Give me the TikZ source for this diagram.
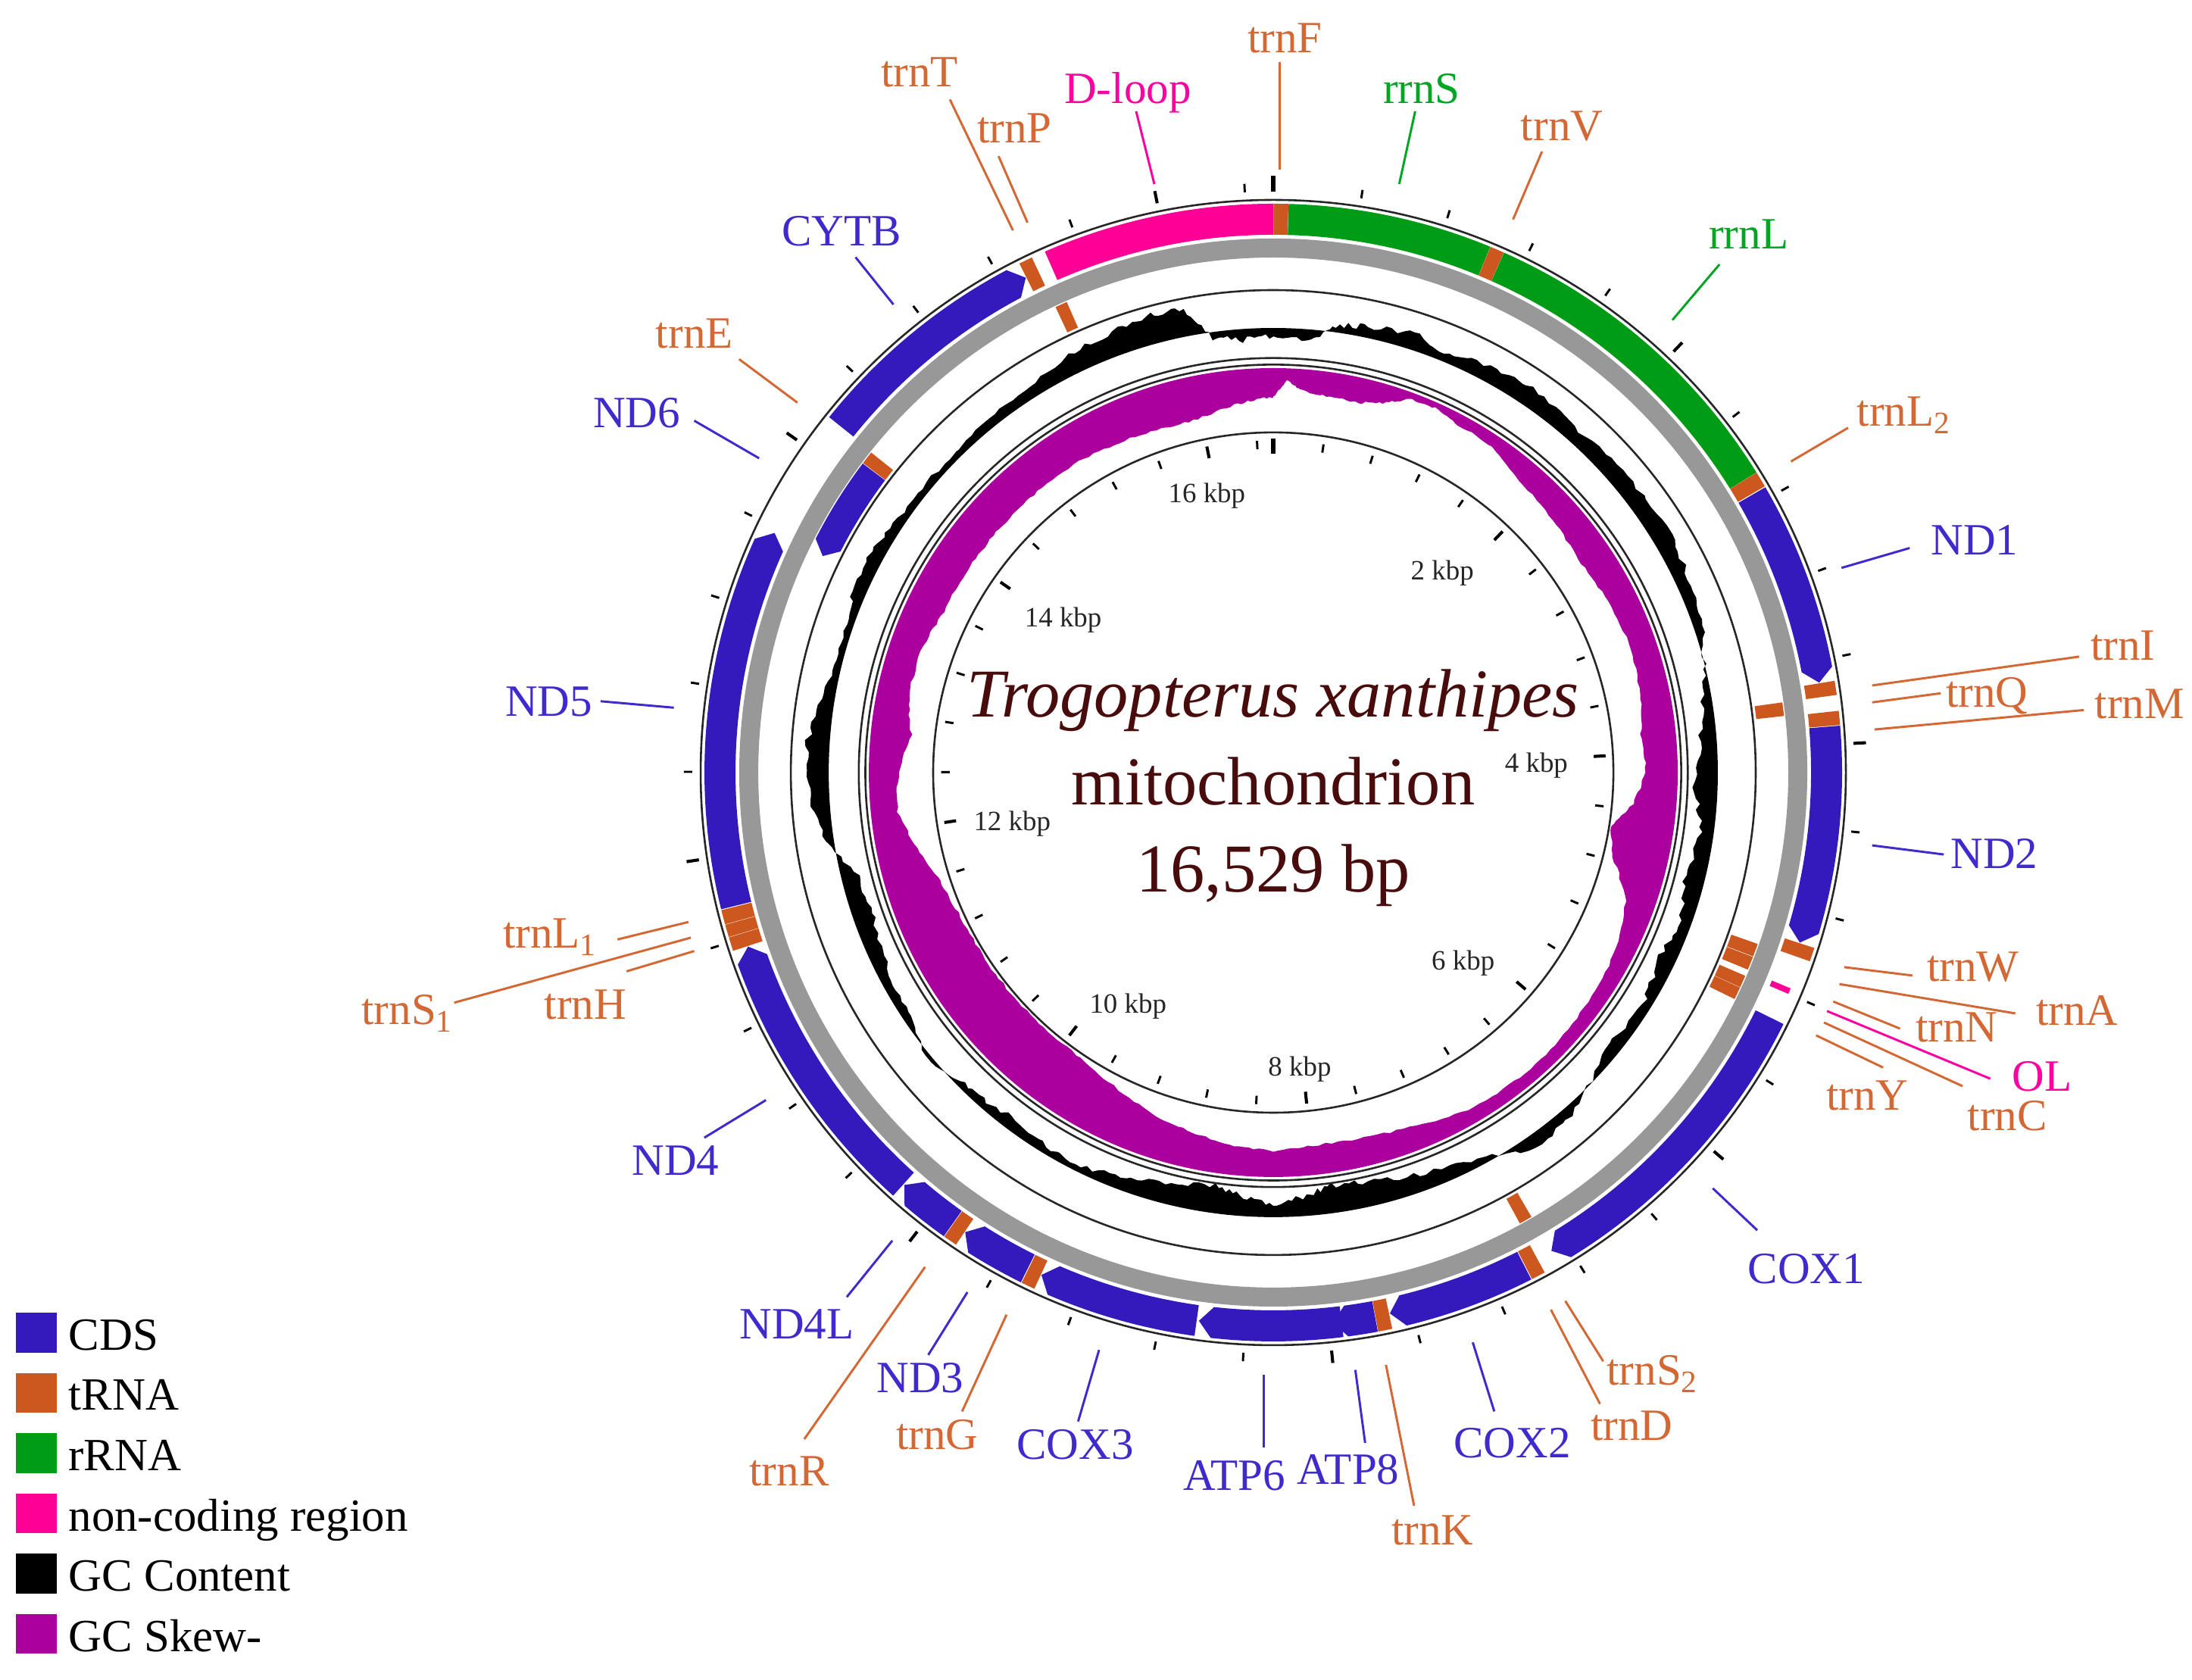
\documentclass[tikz,border=0pt]{standalone}
\usepackage{fontspec}
\setmainfont{Liberation Serif}
\definecolor{cdsC}{RGB}{52,26,188}
\definecolor{trnaC}{RGB}{204,88,32}
\definecolor{rrnaC}{RGB}{0,156,22}
\definecolor{ncC}{RGB}{255,0,150}
\definecolor{skewC}{RGB}{172,0,158}
\definecolor{ringC}{RGB}{152,152,152}
\definecolor{titleC}{RGB}{72,12,12}
\definecolor{cdsT}{RGB}{62,42,205}
\definecolor{trnaT}{RGB}{212,104,52}
\definecolor{rrnaT}{RGB}{0,165,35}
\definecolor{ncT}{RGB}{255,0,160}
% degrees per kbp (genome 16.529 kbp)
\def\dg{21.77990199}
\def\tipang{1.4}
\def\oI{384.7}\def\oO{406.9}\def\iI{347.6}\def\iO{367.6}
\newcommand\gfArc[5]{%
  \pgfmathsetmacro\gfSa{#1*\dg-90}\pgfmathsetmacro\gfEa{#2*\dg-90}%
  \fill[#5] plot[domain=\gfSa:\gfEa,samples=40,variable=\gfv] (\gfv:#4) -- plot[domain=\gfEa:\gfSa,samples=40,variable=\gfv] (\gfv:#3) -- cycle;}
\newcommand\gfFwd[4]{%
  \pgfmathsetmacro\gfSa{#1*\dg-90}\pgfmathsetmacro\gfEa{#2*\dg-90}%
  \pgfmathsetmacro\gfTa{\gfEa-\tipang}\pgfmathsetmacro\gfRm{(#3+#4)/2}%
  \fill[cdsC] plot[domain=\gfSa:\gfTa,samples=40,variable=\gfv] (\gfv:#4) -- (\gfEa:\gfRm) -- plot[domain=\gfTa:\gfSa,samples=40,variable=\gfv] (\gfv:#3) -- cycle;}
\newcommand\gfRev[4]{%
  \pgfmathsetmacro\gfSa{#1*\dg-90}\pgfmathsetmacro\gfEa{#2*\dg-90}%
  \pgfmathsetmacro\gfTa{\gfSa+\tipang}\pgfmathsetmacro\gfRm{(#3+#4)/2}%
  \fill[cdsC] (\gfSa:\gfRm) -- plot[domain=\gfTa:\gfEa,samples=40,variable=\gfv] (\gfv:#4) -- plot[domain=\gfEa:\gfTa,samples=40,variable=\gfv] (\gfv:#3) -- cycle;}
\begin{document}
\begin{tikzpicture}[x=0.5pt,y=-0.5pt,
  circ/.style={draw=black!85,line width=0.7pt},
  ringgray/.style={draw=ringC,line width=6.8pt},
  tickS/.style={draw=black,line width=0.8pt},
  tickB/.style={draw=black,line width=1.1pt},
  tickZ/.style={draw=black,line width=1.7pt},
  lab/.style={font=\fontsize{16}{19}\selectfont,inner sep=0pt,anchor=base west},
  leader/.style={line width=0.8pt},
  kbp/.style={font=\fontsize{10}{12}\selectfont,inner sep=0pt,text=black!85},
  legtxt/.style={font=\fontsize{16.5}{20}\selectfont,inner sep=0pt,anchor=base west},
  ctitle/.style={font=\fontsize{24.5}{30}\selectfont,text=titleC,inner sep=0pt,anchor=base}]
\useasboundingbox (0,0) rectangle (1568,1201.2);
\fill[white] (0,0) rectangle (1568,1201.2);
\begin{scope}[shift={(910.8,552.6)}]
  % ---------- GC skew ----------
  \pgfmathsetseed{11}
  \fill[skewC,even odd rule] (0,0) circle[radius=289.3] (-90:269.3)
    \foreach \gA/\gD [remember=\gA as \gAp (initially 0), remember=\gD as \gDp (initially 20)] in
    {2/8,4/14,8/17,13/17,17/12,20/4,24/3,28/7,34/8,40/16,48/19,55/22,62/20,70/18,78/20,84/24,90/22,95/30,99/44,104/38,110/20,118/12,126/10,134/8,142/8,150/10,158/16,166/20,174/20,180/18,186/20,192/24,198/28,206/36,214/42,222/43,230/43,238/43,246/42,252/38,258/28,264/18,270/20,276/28,282/22,290/22,296/26,302/26,308/26,314/26,320/26,328/26,335/28,342/30,348/30,354/24,358/21,360/20}
    { \foreach \gK in {1,...,8} { -- ({(\gAp)+((\gA)-(\gAp))*\gK/8-90}:{289.3-(\gDp)-((\gD)-(\gDp))*\gK/8-1.8*rnd}) } } -- cycle;
  % ---------- GC content ----------
  \fill[black,even odd rule] (0,0) circle[radius=318] (-90:312)
    \foreach \gA/\gD [remember=\gA as \gAp (initially 0), remember=\gD as \gDp (initially -6)] in
    {5/-8,8/5,12/8,18/12,22/6,28/12,35/14,42/10,50/12,58/14,65/10,72/6,78/-4,85/-12,92/-16,98/-10,104/-14,110/-8,116/-12,122/-6,130/-10,138/6,145/10,152/-6,160/-12,167/-18,172/-20,176/-14,180/-8,184/-14,188/-20,194/-16,200/-10,206/-4,212/-6,218/-8,224/-5,230/4,236/-5,242/-8,250/-14,256/-12,262/8,268/14,274/16,280/8,286/4,292/8,298/10,304/6,312/4,320/6,328/8,334/14,340/18,345/21,349/20,352/-4,356/-8,360/-6}
    { \foreach \gK in {1,...,8} { -- ({(\gAp)+((\gA)-(\gAp))*\gK/8-90}:{318+(\gDp)+((\gD)-(\gDp))*\gK/8+4.4*rnd-2.2}) } } -- cycle;
  % ---------- circles ----------
  \draw[ringgray] (0,0) circle[radius=375.2];
  \draw[circ] (0,0) circle[radius=409.6];
  \draw[circ] (0,0) circle[radius=345.1];
  \draw[circ] (0,0) circle[radius=296.5];
  \draw[circ] (0,0) circle[radius=291.8];
  \draw[circ] (0,0) circle[radius=243.3];
  % ---------- ticks (every 400 bp) ----------
  \draw[tickZ] (-90:415.6) -- (-90:427);
  \draw[tickZ] (-90:239) -- (-90:228);
  \foreach \i in {1,...,41} {
    \pgfmathsetmacro\tka{\i*8.711960796-90}
    \pgfmathtruncatemacro\tkm{mod(\i,5)}
    \ifnum\tkm=0
      \draw[tickB] (\tka:415.6) -- (\tka:424.5);
      \draw[tickB] (\tka:238) -- (\tka:229.5);
    \else
      \draw[tickS] (\tka:415.6) -- (\tka:421.6);
      \draw[tickS] (\tka:237.5) -- (\tka:231.5);
    \fi
  }
  % ---------- features: outer (forward) ring, positions in kbp ----------
  \gfArc{0.001}{0.070}{\oI}{\oO}{trnaC}
  \gfArc{0.071}{1.030}{\oI}{\oO}{rrnaC}
  \gfArc{1.031}{1.098}{\oI}{\oO}{trnaC}
  \gfArc{1.099}{2.670}{\oI}{\oO}{rrnaC}
  \gfArc{2.671}{2.745}{\oI}{\oO}{trnaC}
  \gfFwd{2.750}{3.703}{\oI}{\oO}
  \gfArc{3.706}{3.772}{\oI}{\oO}{trnaC}
  \gfArc{3.846}{3.912}{\oI}{\oO}{trnaC}
  \gfFwd{3.915}{4.954}{\oI}{\oO}
  \gfArc{4.957}{5.022}{\oI}{\oO}{trnaC}
  \gfArc{5.172}{5.200}{386.5}{401}{ncC}
  \gfFwd{5.337}{6.879}{\oI}{\oO}
  \gfArc{6.956}{7.022}{\oI}{\oO}{trnaC}
  \gfFwd{7.026}{7.706}{\oI}{\oO}
  \gfArc{7.710}{7.776}{\oI}{\oO}{trnaC}
  \gfFwd{7.778}{7.981}{\oI}{\oO}
  \gfFwd{7.939}{8.619}{\oI}{\oO}
  \gfFwd{8.630}{9.402}{\oI}{\oO}
  \gfArc{9.405}{9.470}{\oI}{\oO}{trnaC}
  \gfFwd{9.474}{9.818}{\oI}{\oO}
  \gfArc{9.821}{9.887}{\oI}{\oO}{trnaC}
  \gfFwd{9.890}{10.184}{\oI}{\oO}
  \gfFwd{10.190}{11.555}{\oI}{\oO}
  \gfArc{11.558}{11.623}{\oI}{\oO}{trnaC}
  \gfArc{11.625}{11.684}{\oI}{\oO}{trnaC}
  \gfArc{11.686}{11.754}{\oI}{\oO}{trnaC}
  \gfFwd{11.758}{13.575}{\oI}{\oO}
  \gfFwd{14.172}{15.309}{\oI}{\oO}
  \gfArc{15.312}{15.376}{\oI}{\oO}{trnaC}
  \gfArc{15.442}{16.529}{\oI}{\oO}{ncC}
  % ---------- features: inner (reverse) ring ----------
  \gfArc{3.772}{3.842}{\iI}{\iO}{trnaC}
  \gfArc{5.027}{5.095}{\iI}{\iO}{trnaC}
  \gfArc{5.098}{5.168}{\iI}{\iO}{trnaC}
  \gfArc{5.202}{5.266}{\iI}{\iO}{trnaC}
  \gfArc{5.268}{5.333}{\iI}{\iO}{trnaC}
  \gfArc{6.880}{6.948}{\iI}{\iO}{trnaC}
  \gfRev{13.575}{14.094}{\iI}{\iO}
  \gfArc{14.097}{14.165}{\iI}{\iO}{trnaC}
  \gfArc{15.378}{15.441}{\iI}{\iO}{trnaC}
\end{scope}
% ---------- kbp scale labels ----------
\node[kbp] (kb16) at (863.3,354.6) {16 kbp};
\node[kbp] (kb2)  at (1031.7,409.8) {2 kbp};
\node[kbp] (kb14) at (760.5,443.3) {14 kbp};
\node[kbp] (kb4)  at (1099,547.4) {4 kbp};
\node[kbp] (kb12) at (724,589.4) {12 kbp};
\node[kbp] (kb6)  at (1046.6,689) {6 kbp};
\node[kbp] (kb10) at (806.9,720) {10 kbp};
\node[kbp] (kb8)  at (929.7,765) {8 kbp};
% ---------- centre title ----------
\node[ctitle] (t1) at (910.8,513) {\textit{Trogopterus xanthipes}};
\node[ctitle] (t2) at (910.8,575.4) {mitochondrion};
\node[ctitle] (t3) at (910.8,637.7) {16,529 bp};
% ---------- labels ----------
\node[lab,text=trnaT] (LtrnF) at (892,37.6) {trnF};
\coordinate (sF) at (915.4,121.6); \coordinate (eF) at (915.4,44.2);
\draw[leader,trnaT] (sF) -- (eF);
\node[lab,text=rrnaT] (LrrnS) at (989,74.1) {rrnS};
\coordinate (sS) at (1000.9,131.6); \coordinate (eS) at (1012.3,79.6);
\draw[leader,rrnaT] (sS) -- (eS);
\node[lab,text=trnaT] (LtrnV) at (1087.5,100.6) {trnV};
\coordinate (sV) at (1082.3,157); \coordinate (eV) at (1103,108.4);
\draw[leader,trnaT] (sV) -- (eV);
\node[lab,text=rrnaT] (LrrnL) at (1222,178) {rrnL};
\coordinate (sL) at (1196.3,228.9); \coordinate (eL) at (1230,189.1);
\draw[leader,rrnaT] (sL) -- (eL);
\node[lab,text=trnaT] (LtrnL2) at (1328,305) {trnL\textsubscript{2}};
\coordinate (sL2) at (1281.1,330.1); \coordinate (eL2) at (1322,306);
\draw[leader,trnaT] (sL2) -- (eL2);
\node[lab,text=cdsT] (LND1) at (1381,397) {ND1};
\coordinate (sN1) at (1317.3,406.2); \coordinate (eN1) at (1366,392);
\draw[leader,cdsT] (sN1) -- (eN1);
\node[lab,text=trnaT] (LtrnI) at (1495,472) {trnI};
\coordinate (sI) at (1339.2,490.3); \coordinate (eI) at (1487.2,469.7);
\draw[leader,trnaT] (sI) -- (eI);
\node[lab,text=trnaT] (LtrnQ) at (1391.5,506) {trnQ};
\coordinate (sQ) at (1339.2,502.4); \coordinate (eQ) at (1388.2,495.9);
\draw[leader,trnaT] (sQ) -- (eQ);
\node[lab,text=trnaT] (LtrnM) at (1498,514) {trnM};
\coordinate (sM) at (1341,521.8); \coordinate (eM) at (1490.5,507.9);
\draw[leader,trnaT] (sM) -- (eM);
\node[lab,text=cdsT] (LND2) at (1395,621) {ND2};
\coordinate (sN2) at (1339.2,604.7); \coordinate (eN2) at (1390.4,611.2);
\draw[leader,cdsT] (sN2) -- (eN2);
\node[lab,text=trnaT] (LtrnW) at (1378,702) {trnW};
\coordinate (sW) at (1319.2,691.8); \coordinate (eW) at (1368.1,697.8);
\draw[leader,trnaT] (sW) -- (eW);
\node[lab,text=trnaT] (LtrnA) at (1456,733.4) {trnA};
\coordinate (sA) at (1315.8,703.9); \coordinate (eA) at (1441.6,724.9);
\draw[leader,trnaT] (sA) -- (eA);
\node[lab,text=trnaT] (LtrnN) at (1370,745.5) {trnN};
\coordinate (sN) at (1311.4,716.4); \coordinate (eN) at (1359.2,735.8);
\draw[leader,trnaT] (sN) -- (eN);
\node[lab,text=ncT] (LOL) at (1439,780.5) {OL};
\coordinate (sOL) at (1306.9,723.2); \coordinate (eOL) at (1423.7,771.6);
\draw[leader,ncT] (sOL) -- (eOL);
\node[lab,text=trnaT] (LtrnC) at (1407,808.5) {trnC};
\coordinate (sC) at (1304.7,731.4); \coordinate (eC) at (1403.8,776.9);
\draw[leader,trnaT] (sC) -- (eC);
\node[lab,text=trnaT] (LtrnY) at (1306,794) {trnY};
\coordinate (sY) at (1299.1,740.6); \coordinate (eY) at (1347,763.6);
\draw[leader,trnaT] (sY) -- (eY);
\node[lab,text=cdsT] (LCOX1) at (1250,918) {COX1};
\coordinate (sX1) at (1225.2,850); \coordinate (eX1) at (1257,880);
\draw[leader,cdsT] (sX1) -- (eX1);
\node[lab,text=trnaT] (LtrnS2) at (1149,990.7) {trnS\textsubscript{2}};
\coordinate (sS2) at (1119.7,930.6); \coordinate (eS2) at (1146.8,973.7);
\draw[leader,trnaT] (sS2) -- (eS2);
\node[lab,text=trnaT] (LtrnD) at (1137.5,1030.3) {trnD};
\coordinate (sD) at (1109.4,936.8); \coordinate (eD) at (1144.5,1004.2);
\draw[leader,trnaT] (sD) -- (eD);
\node[lab,text=cdsT] (LCOX2) at (1039.5,1042.9) {COX2};
\coordinate (sX2) at (1053.5,960.2); \coordinate (eX2) at (1068.9,1009.6);
\draw[leader,cdsT] (sX2) -- (eX2);
\node[lab,text=trnaT] (LtrnK) at (995,1104.8) {trnK};
\coordinate (sK) at (991.4,976.3); \coordinate (eK) at (1011.5,1077);
\draw[leader,trnaT] (sK) -- (eK);
\node[lab,text=cdsT] (LATP8) at (927.6,1061.7) {ATP8};
\coordinate (sA8) at (969.5,979.9); \coordinate (eA8) at (976.5,1032.1);
\draw[leader,cdsT] (sA8) -- (eA8);
\node[lab,text=cdsT] (LATP6) at (846,1066.2) {ATP6};
\coordinate (sA6) at (904.2,983.5); \coordinate (eA6) at (904.2,1035.6);
\draw[leader,cdsT] (sA6) -- (eA6);
\node[lab,text=cdsT] (LCOX3) at (727,1043.8) {COX3};
\coordinate (sX3) at (786.2,965.6); \coordinate (eX3) at (771.2,1016.8);
\draw[leader,cdsT] (sX3) -- (eX3);
\node[lab,text=trnaT] (LtrnG) at (640.7,1036.6) {trnG};
\coordinate (sG) at (720,940.4); \coordinate (eG) at (688.2,1009.6);
\draw[leader,trnaT] (sG) -- (eG);
\node[lab,text=cdsT] (LND3) at (626.7,996.2) {ND3};
\coordinate (sN3) at (692,924.3); \coordinate (eN3) at (664,969.2);
\draw[leader,cdsT] (sN3) -- (eN3);
\node[lab,text=trnaT] (LtrnR) at (535.7,1062.6) {trnR};
\coordinate (sR) at (661.7,906.3); \coordinate (eR) at (575.3,1029.4);
\draw[leader,trnaT] (sR) -- (eR);
\node[lab,text=cdsT] (LND4L) at (528.7,957.5) {ND4L};
\coordinate (sN4L) at (638.3,887.4); \coordinate (eN4L) at (605.7,927.8);
\draw[leader,cdsT] (sN4L) -- (eN4L);
\node[lab,text=cdsT] (LND4) at (451.8,840.8) {ND4};
\coordinate (sN4) at (547.9,786.9); \coordinate (eN4) at (503.8,813.8);
\draw[leader,cdsT] (sN4) -- (eN4);
\node[lab,text=trnaT] (LtrnL1) at (359.4,678.2) {trnL\textsubscript{1}};
\coordinate (sL1) at (492.4,659.5); \coordinate (eL1) at (441.7,672);
\draw[leader,trnaT] (sL1) -- (eL1);
\node[lab,text=trnaT] (LtrnS1) at (258.3,733) {trnS\textsubscript{1}};
\coordinate (sS1) at (494.2,670.7); \coordinate (eS1) at (324.9,717.2);
\draw[leader,trnaT] (sS1) -- (eS1);
\node[lab,text=trnaT] (LtrnH) at (389,728.8) {trnH};
\coordinate (sH) at (496.6,680.3); \coordinate (eH) at (448.2,694.8);
\draw[leader,trnaT] (sH) -- (eH);
\node[lab,text=cdsT] (LND5) at (361,512) {ND5};
\coordinate (sN5) at (482,506.2); \coordinate (eN5) at (429.6,501.6);
\draw[leader,cdsT] (sN5) -- (eN5);
\node[lab,text=cdsT] (LND6) at (424,305.8) {ND6};
\coordinate (sN6) at (543,327.8); \coordinate (eN6) at (496.6,300.9);
\draw[leader,cdsT] (sN6) -- (eN6);
\node[lab,text=trnaT] (LtrnE) at (468.8,249.1) {trnE};
\coordinate (sE) at (570.4,288); \coordinate (eE) at (528.7,256.9);
\draw[leader,trnaT] (sE) -- (eE);
\node[lab,text=cdsT] (LCYTB) at (558.8,175.8) {CYTB};
\coordinate (sCB) at (639.1,217.8); \coordinate (eCB) at (612,184);
\draw[leader,cdsT] (sCB) -- (eCB);
\node[lab,text=trnaT] (LtrnT) at (629.8,61.9) {trnT};
\coordinate (sT) at (724.6,164.8); \coordinate (eT) at (679.5,71.2);
\draw[leader,trnaT] (sT) -- (eT);
\node[lab,text=trnaT] (LtrnP) at (698.7,102.2) {trnP};
\coordinate (sP) at (735,159.2); \coordinate (eP) at (714.3,111.7);
\draw[leader,trnaT] (sP) -- (eP);
\node[lab,text=ncT] (LDloop) at (761,74.1) {D-loop};
\coordinate (sDL) at (825.7,131.6); \coordinate (eDL) at (812.7,79.6);
\draw[leader,ncT] (sDL) -- (eDL);
% ---------- legend ----------
\fill[cdsC]   (11.4,939)    rectangle (40.4,967.5);
\fill[trnaC]  (11.4,982.1)  rectangle (40.4,1010.6);
\fill[rrnaC]  (11.4,1025.2) rectangle (40.4,1053.7);
\fill[ncC]    (11.4,1068.3) rectangle (40.4,1096.8);
\fill[black]  (11.4,1111.4) rectangle (40.4,1139.9);
\fill[skewC]  (11.4,1154.5) rectangle (40.4,1183);
\node[legtxt] (g1) at (48.7,965.7) {CDS};
\node[legtxt] (g2) at (48.7,1008.8) {tRNA};
\node[legtxt] (g3) at (48.7,1051.9) {rRNA};
\node[legtxt] (g4) at (48.7,1095) {non-coding region};
\node[legtxt] (g5) at (48.7,1138.1) {GC Content};
\node[legtxt] (g6) at (48.7,1181.2) {GC Skew-};
\end{tikzpicture}
\end{document}
